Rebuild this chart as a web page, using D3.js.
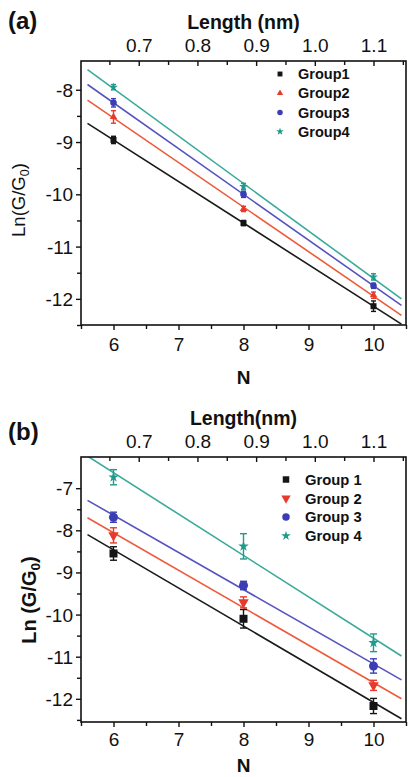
<!DOCTYPE html>
<html>
<head>
<meta charset="utf-8">
<script src="https://cdn.jsdelivr.net/npm/d3@7"></script>
<style>
  html, body { margin: 0; padding: 0; background: #fff; }
  svg { display: block; font-family: "Liberation Sans", Arial, Helvetica, sans-serif; }
</style>
</head>
<body>
<svg id="chart" width="408" height="777"></svg>
<script>
// ---- data ----
const nValues = [6, 8, 10];
const xTicks = [6, 7, 8, 9, 10];
const lengthTicks = [0.7, 0.8, 0.9, 1.0, 1.1];
// molecular length (nm) at N = 6 and N = 10, used to place the top axis
const lengthAtN = [[6, 0.657], [10, 1.10]];
// N extent covered by the linear fits
const fitRange = [5.6, 10.43];

const groupNamesA = ["Group1", "Group2", "Group3", "Group4"];
const meansA = [
  [-8.96, -10.55, -12.14],
  [-8.52, -10.28, -11.93],
  [-8.25, -10.00, -11.75],
  [-7.95, -9.85, -11.58]
];
const errorsA = [
  [0.07, 0.05, 0.10],
  [0.12, 0.05, 0.06],
  [0.08, 0.06, 0.05],
  [0.05, 0.06, 0.06]
];
const yTicksA = [-12, -11, -10, -9, -8];

const groupNamesB = ["Group 1", "Group 2", "Group 3", "Group 4"];
const meansB = [
  [-8.55, -10.10, -12.17],
  [-8.12, -9.71, -11.68],
  [-7.69, -9.31, -11.22],
  [-6.74, -8.38, -10.67]
];
const errorsB = [
  [0.16, 0.22, 0.18],
  [0.18, 0.13, 0.12],
  [0.12, 0.10, 0.17],
  [0.18, 0.30, 0.21]
];
const yTicksB = [-12, -11, -10, -9, -8, -7];

// ---- styling ----
const markColors = ["#151515", "#e63b2c", "#3a3db6", "#1f9b8b"];
const lineColors = ["#1a1a1a", "#ee5a3c", "#5653c0", "#3aaa9a"];

const svg = d3.select("#chart");
const plotLeft = 81, plotRight = 406;

function leastSquares(xs, ys) {
  const mx = d3.mean(xs), my = d3.mean(ys);
  const sxy = d3.sum(xs, (v, i) => (v - mx) * (ys[i] - my));
  const sxx = d3.sum(xs, v => (v - mx) * (v - mx));
  const slope = sxy / sxx;
  return { slope, intercept: my - slope * mx };
}

function drawPanel(cfg) {
  const g = svg.append("g");
  const x = d3.scaleLinear().domain([5.5, 10.5]).range([plotLeft, plotRight]);
  const y = d3.scaleLinear().domain(cfg.yDomain).range([cfg.bottom, cfg.top]);
  const lengthOf = d3.scaleLinear()
    .domain(lengthAtN.map(d => d[0]))
    .range(lengthAtN.map(d => d[1]));
  const xTop = d3.scaleLinear().domain(x.domain().map(lengthOf)).range(x.range());

  const clipId = "clip-" + cfg.id;
  g.append("clipPath").attr("id", clipId)
    .append("rect")
    .attr("x", plotLeft).attr("y", cfg.top)
    .attr("width", plotRight - plotLeft).attr("height", cfg.bottom - cfg.top);

  const plot = g.append("g").attr("clip-path", `url(#${clipId})`);

  // linear fits
  cfg.means.forEach((series, i) => {
    const fit = leastSquares(nValues, series);
    plot.append("line")
      .attr("x1", x(fitRange[0])).attr("y1", y(fit.intercept + fit.slope * fitRange[0]))
      .attr("x2", x(fitRange[1])).attr("y2", y(fit.intercept + fit.slope * fitRange[1]))
      .attr("stroke", lineColors[i]).attr("stroke-width", 1.6);
  });

  // error bars and markers
  cfg.means.forEach((series, i) => {
    const color = markColors[i];
    series.forEach((v, j) => {
      const e = cfg.errors[i][j];
      const cx = x(nValues[j]);
      const eg = g.append("g").attr("stroke", color).attr("stroke-width", 1.4);
      eg.append("line").attr("x1", cx).attr("x2", cx).attr("y1", y(v - e)).attr("y2", y(v + e));
      eg.append("line").attr("x1", cx - cfg.cap).attr("x2", cx + cfg.cap).attr("y1", y(v - e)).attr("y2", y(v - e));
      eg.append("line").attr("x1", cx - cfg.cap).attr("x2", cx + cfg.cap).attr("y1", y(v + e)).attr("y2", y(v + e));
      g.append("path")
        .attr("d", d3.symbol().type(cfg.symbols[i]).size(cfg.sizes[i])())
        .attr("transform", `translate(${cx},${y(v)}) rotate(${cfg.rotations[i]})`)
        .attr("fill", color);
    });
  });

  // frame
  g.append("rect")
    .attr("x", plotLeft).attr("y", cfg.top)
    .attr("width", plotRight - plotLeft).attr("height", cfg.bottom - cfg.top)
    .attr("fill", "none").attr("stroke", "#111").attr("stroke-width", 1.6);

  const styleAxis = sel => {
    sel.select(".domain").remove();
    sel.selectAll(".tick line").attr("stroke", "#111").attr("stroke-width", 1.4);
    sel.selectAll(".tick text").attr("fill", "#111").attr("font-size", 19);
  };

  // bottom axis
  const halfN = d3.range(5.5, 10.51, 1);
  g.append("g").attr("transform", `translate(0,${cfg.bottom})`)
    .call(d3.axisBottom(x).tickValues(halfN).tickSize(4).tickFormat(""))
    .call(styleAxis);
  g.append("g").attr("transform", `translate(0,${cfg.bottom})`)
    .call(d3.axisBottom(x).tickValues(xTicks).tickSize(5).tickFormat(d3.format("d")))
    .call(styleAxis)
    .call(s => s.selectAll(".tick text").attr("y", cfg.xLabelOffset).attr("dy", null));

  // left axis
  const halfY = cfg.yTicks.slice(0, -1).map(d => d + 0.5).concat([cfg.yTicks[0] - 0.5]);
  g.append("g").attr("transform", `translate(${plotLeft},0)`)
    .call(d3.axisLeft(y).tickValues(halfY.filter(d => d >= cfg.yDomain[0] && d <= cfg.yDomain[1])).tickSize(4).tickFormat(""))
    .call(styleAxis);
  g.append("g").attr("transform", `translate(${plotLeft},0)`)
    .call(d3.axisLeft(y).tickValues(cfg.yTicks).tickSize(5).tickPadding(3).tickFormat(d => String(d)))
    .call(styleAxis)
    .call(s => s.selectAll(".tick text").attr("dy", "0.34em"));

  // top axis (length), ticks pointing inward
  const halfL = d3.range(0.65, 1.151, 0.1).map(d => +d.toFixed(2));
  g.append("g").attr("transform", `translate(0,${cfg.top})`)
    .call(d3.axisTop(xTop).tickValues(halfL).tickSizeInner(-4).tickSizeOuter(0).tickFormat(""))
    .call(styleAxis);
  g.append("g").attr("transform", `translate(0,${cfg.top})`)
    .call(d3.axisTop(xTop).tickValues(lengthTicks).tickSizeInner(-5).tickSizeOuter(0).tickFormat(d3.format(".1f")))
    .call(styleAxis)
    .call(s => s.selectAll(".tick text").attr("y", -9).attr("dy", null));

  // titles
  g.append("text").attr("x", 8).attr("y", cfg.panelLabelY)
    .attr("font-size", 24).attr("font-weight", "bold").attr("fill", "#111")
    .text(cfg.panelLabel);
  g.append("text").attr("x", (plotLeft + plotRight) / 2).attr("y", cfg.top - 32)
    .attr("text-anchor", "middle").attr("font-size", 19.5).attr("font-weight", "bold").attr("fill", "#111")
    .text(cfg.topTitle);
  g.append("text").attr("x", x(8)).attr("y", cfg.nTitleY)
    .attr("text-anchor", "middle").attr("font-size", 19).attr("font-weight", "bold").attr("fill", "#111")
    .text("N");

  const yt = g.append("text")
    .attr("transform", `translate(${cfg.yTitleX},${cfg.yTitleY}) rotate(-90)`)
    .attr("text-anchor", "middle").attr("font-size", cfg.yTitleSize)
    .attr("font-weight", cfg.yTitleWeight).attr("fill", "#111");
  yt.append("tspan").text(cfg.yTitlePrefix);
  yt.append("tspan").attr("font-size", cfg.yTitleSize * 0.68).attr("dy", cfg.yTitleSize * 0.22).text("0");
  yt.append("tspan").attr("dy", -cfg.yTitleSize * 0.22).text(")");

  // legend
  cfg.names.forEach((name, i) => {
    const ly = cfg.legendY[0] + i * cfg.legendY[1];
    g.append("path")
      .attr("d", d3.symbol().type(cfg.symbols[i]).size(cfg.legendSizes[i])())
      .attr("transform", `translate(${cfg.legendX},${ly}) rotate(${cfg.rotations[i]})`)
      .attr("fill", markColors[i]);
    g.append("text").attr("x", cfg.legendX + cfg.legendGap).attr("y", ly).attr("dy", "0.36em")
      .attr("font-size", cfg.legendFont).attr("font-weight", "bold").attr("fill", "#111")
      .text(name);
  });
}

drawPanel({
  id: "a", panelLabel: "(a)", panelLabelY: 29, topTitle: "Length (nm)",
  top: 61, bottom: 325, yDomain: [-12.5, -7.45], yTicks: yTicksA,
  means: meansA, errors: errorsA, names: groupNamesA,
  symbols: [d3.symbolSquare, d3.symbolTriangle, d3.symbolCircle, d3.symbolStar],
  rotations: [0, 0, 0, 0],
  sizes: [36, 24, 34, 24], legendSizes: [24, 18, 24, 18], cap: 2.5,
  xLabelOffset: 26, nTitleY: 384,
  yTitlePrefix: "Ln(G/G", yTitleSize: 18.5, yTitleWeight: "normal", yTitleX: 25, yTitleY: 200,
  legendX: 280, legendGap: 18, legendY: [74, 19.2], legendFont: 14.5
});

drawPanel({
  id: "b", panelLabel: "(b)", panelLabelY: 440, topTitle: "Length(nm)",
  top: 457, bottom: 722, yDomain: [-12.55, -6.26], yTicks: yTicksB,
  means: meansB, errors: errorsB, names: groupNamesB,
  symbols: [d3.symbolSquare, d3.symbolTriangle, d3.symbolCircle, d3.symbolStar],
  rotations: [0, 180, 0, 0],
  sizes: [64, 48, 64, 34], legendSizes: [42, 38, 44, 28], cap: 3.5,
  xLabelOffset: 24, nTitleY: 772,
  yTitlePrefix: "Ln (G/G", yTitleSize: 20, yTitleWeight: "bold", yTitleX: 36, yTitleY: 600,
  legendX: 286, legendGap: 19, legendY: [479.5, 18.8], legendFont: 14.8
});
</script>
</body>
</html>
